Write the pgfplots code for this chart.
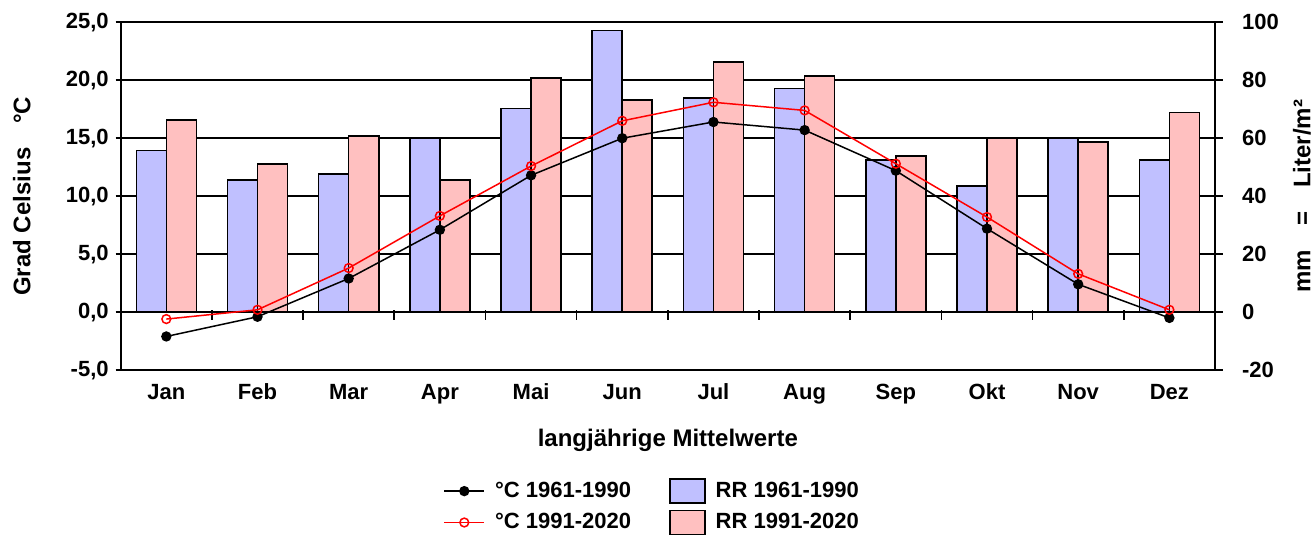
\documentclass[border=0pt]{standalone}
\usepackage{pgfplots}
\pgfplotsset{compat=1.18}
\usepackage{fontspec}
\setmainfont{Liberation Sans}
\definecolor{rrblue}{RGB}{192,192,255}
\definecolor{rrpink}{RGB}{255,192,192}
\definecolor{tred}{RGB}{255,0,0}
\pgfplotsset{
  boxlegend/.style={legend image code/.code={\draw[##1] (0pt,-6pt) rectangle (17.5pt,6pt);}},
  linelegend/.style={legend image code/.code={\draw[##1, mark repeat=2, mark phase=2] plot coordinates {(0pt,0pt) (10pt,0pt) (20pt,0pt)};}},
  common/.style={
    anchor=south west, at={(0pt,0pt)},
    scale only axis, width=547pt, height=173.85pt,
    xmin=0.5, xmax=12.5,
    font=\bfseries\fontsize{11}{13}\selectfont,
    axis line style={line width=0.8pt, black},
    every tick/.style={line width=0.8pt, black},
  }
}
\begin{document}
\begin{tikzpicture}
\useasboundingbox (-60.35pt,-82.5pt) rectangle (596.5pt,185pt);
% ---------- bars, right axis, grid ----------
\begin{axis}[common,
  ymin=-20, ymax=100,
  axis y line*=right, axis x line*=bottom,
  ytick={-20,0,20,40,60,80,100},
  yticklabels={-20,0,20,40,60,80,100},
  ymajorgrids, grid style={line width=0.8pt, black},
  tick align=outside, major tick length=4pt,
  yticklabel style={xshift=6pt},
  xtick={1,...,12},
  xticklabels={Jan,Feb,Mar,Apr,Mai,Jun,Jul,Aug,Sep,Okt,Nov,Dez},
  xtick style={draw=none},
  xticklabel style={yshift=1pt, text height=8pt, text depth=2.3pt},
  ylabel={mm\quad=\quad Liter/m²},
  ylabel style={font=\bfseries\fontsize{12}{14}\selectfont, at={(axis description cs:1.0795,0.5)}, anchor=center},
  xlabel={langjährige Mittelwerte},
  xlabel style={font=\bfseries\fontsize{12}{14}\selectfont, at={(axis description cs:0.5,-0.201)}, anchor=center},
  ybar, bar width=15pt,
]
\addplot[fill=rrblue, draw=black, line width=0.8pt, bar shift=-7.5pt] coordinates {
(1,55.7) (2,45.5) (3,47.6) (4,60.1) (5,70.3) (6,97.2) (7,73.8) (8,77.2) (9,52.4) (10,43.5) (11,60.1) (12,52.4)};
\addplot[fill=rrpink, draw=black, line width=0.8pt, bar shift=7.5pt] coordinates {
(1,66.2) (2,51.1) (3,60.8) (4,45.5) (5,80.7) (6,73.2) (7,86.3) (8,81.4) (9,53.8) (10,60.1) (11,58.6) (12,68.9)};
\pgfplotsinvokeforeach{1.5,2.5,3.5,4.5,5.5,6.5,7.5,8.5,9.5,10.5,11.5}{
  \draw[line width=0.8pt] ([yshift=1pt]axis cs:#1,0) -- ([yshift=-4pt]axis cs:#1,0);
}
\end{axis}
% ---------- temperature lines, left axis ----------
\begin{axis}[common,
  ymin=-5, ymax=25,
  axis y line*=left, axis x line=none,
  ytick={-5,0,5,10,15,20,25},
  yticklabels={{-5,0},{0,0},{5,0},{10,0},{15,0},{20,0},{25,0}},
  tick align=outside, major tick length=2.5pt,
  ylabel={Grad Celsius\quad °C},
  ylabel style={font=\bfseries\fontsize{12}{14}\selectfont, at={(axis description cs:-0.0905,0.5)}, anchor=center},
  legend columns=2,
  legend style={draw=none, fill=none, inner sep=0pt, at={(axis description cs:0.4866,-0.309)}, anchor=north,
    font=\bfseries\fontsize{11}{13}\selectfont,
    /tikz/every odd column/.append style={column sep=3pt},
    /tikz/every even column/.append style={column sep=17pt},
    row sep=2.5pt},
  legend cell align=left,
]
\addplot[black, line width=0.75pt, mark=*, mark size=2.2pt, linelegend]
  coordinates {(1,-2.1) (2,-0.4) (3,2.9) (4,7.1) (5,11.8) (6,15.0) (7,16.4) (8,15.7) (9,12.2) (10,7.2) (11,2.4) (12,-0.5)};
\addlegendentry{°C 1961-1990}
\addlegendimage{fill=rrblue, draw=black, line width=0.8pt, boxlegend}
\addlegendentry{RR 1961-1990}
\addplot[tred, line width=0.75pt, mark=o, mark size=2.2pt, mark options={line width=0.75pt}, linelegend]
  coordinates {(1,-0.6) (2,0.2) (3,3.8) (4,8.3) (5,12.6) (6,16.5) (7,18.1) (8,17.4) (9,12.8) (10,8.2) (11,3.3) (12,0.2)};
\addlegendentry{°C 1991-2020}
\addlegendimage{fill=rrpink, draw=black, line width=0.8pt, boxlegend}
\addlegendentry{RR 1991-2020}
\end{axis}
\end{tikzpicture}
\end{document}
